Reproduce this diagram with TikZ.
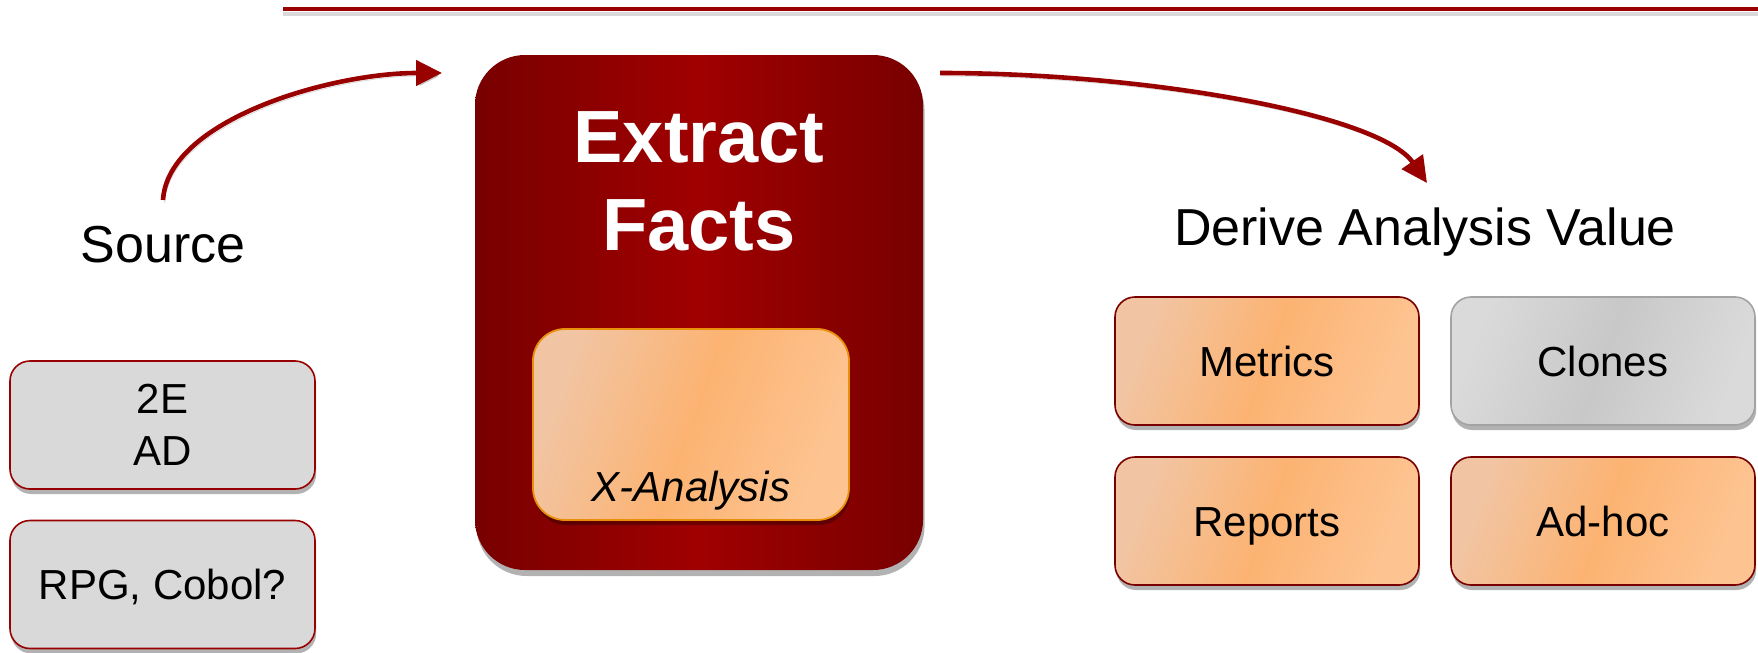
\documentclass[tikz,border=0pt]{standalone}
\usepackage{fontspec}
\setmainfont{Liberation Sans}
\usetikzlibrary{arrows.meta,shadows}
\definecolor{dred}{HTML}{990000}
\definecolor{boxdark}{HTML}{780000}
\definecolor{boxmid}{HTML}{A00000}
\definecolor{peachL}{HTML}{F1C5A4}
\definecolor{peachM}{HTML}{FCB372}
\definecolor{peachR}{HTML}{FDC492}
\definecolor{greyL}{HTML}{DADADA}
\definecolor{greyM}{HTML}{C8C8C8}
\definecolor{greyB}{HTML}{A3A3A3}
\definecolor{lgrey}{HTML}{D9D9D9}
\definecolor{orangeB}{HTML}{E8900A}
\tikzset{
  softshadow/.style={drop shadow={shadow xshift=0.6pt, shadow yshift=-2.5pt, opacity=0.3, fill=black}},
  capcenter/.style={text height=15pt, text depth=0pt},
  srcbox/.style={draw=dred, line width=0.8pt, fill=lgrey, rounded corners=10pt,
    minimum width=152.5pt, minimum height=64pt, inner sep=0pt, align=center,
    font=\fontsize{21}{26}\selectfont, softshadow},
  peachfill/.style={left color=peachL, right color=peachR, middle color=peachM, shading angle=70},
  valbox/.style={draw=dred!80!black, line width=0.8pt, rounded corners=10pt,
    minimum width=152pt, minimum height=64pt, inner sep=0pt,
    font=\fontsize{21}{26}\selectfont, peachfill, softshadow, capcenter},
  greybox/.style={valbox, draw=greyB, left color=greyL, right color=greyL, middle color=greyM, shading angle=70},
  bigbox/.style={draw=none, left color=boxdark, right color=boxdark, middle color=boxmid,
    rounded corners=25pt, minimum width=224pt, minimum height=257.5pt, inner sep=0pt,
    drop shadow={shadow xshift=0.8pt, shadow yshift=-3pt, opacity=0.3, fill=black}},
  innerbox/.style={draw=orangeB, line width=0.9pt, peachfill, rounded corners=16pt,
    minimum width=158pt, minimum height=95.5pt, inner sep=0pt, softshadow},
  bigtext/.style={text=white, font=\bfseries\fontsize{37}{42}\selectfont, inner sep=0pt, anchor=base},
  lbl/.style={font=\fontsize{26}{30}\selectfont, inner sep=0pt, anchor=base},
  flow/.style={draw=dred, line width=2.3pt, -{Triangle[length=13pt,width=12.5pt]},
    preaction={draw=black, opacity=0.15, transform canvas={xshift=0.8pt,yshift=-1.5pt}}}
}
\begin{document}
\begin{tikzpicture}[x=0.5pt,y=-0.5pt]
\useasboundingbox (0,0) rectangle (1758,653);
% top rule
\coordinate (ls) at (283,9);
\coordinate (le) at (1758,9);
\draw[black, opacity=0.15, line width=2pt] ([yshift=-2.5pt]ls) -- ([yshift=-2.5pt]le);
\draw[dred, line width=2pt] (ls) -- (le);

% central box
\node[bigbox] (extract) at (699,312.5) {};
\node[bigtext] (t1) at (699,162) {Extract};
\node[bigtext] (t2) at (699,250) {Facts};
\node[innerbox] (xa) at (691,424.5) {};
\node[font=\itshape\fontsize{21}{26}\selectfont, inner sep=0pt, anchor=base] (xat) at (691,501) {X-Analysis};

% source side
\node[lbl] (source) at (163,262) {Source};
\node[srcbox] (twoE) at (162.5,425) {2E\\AD};
\node[srcbox, capcenter] (rpg) at (162.5,584.5) {RPG, Cobol?};

% value side
\node[lbl] (derive) at (1425,245) {Derive Analysis Value};
\node[valbox] (metrics) at (1267,361) {Metrics};
\node[greybox] (clones) at (1603,361) {Clones};
\node[valbox] (reports) at (1267,521) {Reports};
\node[valbox] (adhoc) at (1603,521) {Ad-hoc};

% arrows
\coordinate (a1s) at (163,200);
\coordinate (a1e) at (442,73);
\coordinate (a2s) at (940,73);
\coordinate (a2e) at (1427,183);
\draw[flow] (a1s) .. controls (168,120) and (330,73) .. (a1e);
\draw[flow] (a2s) .. controls (1150,73) and (1380,115) .. (a2e);
\end{tikzpicture}
\end{document}
